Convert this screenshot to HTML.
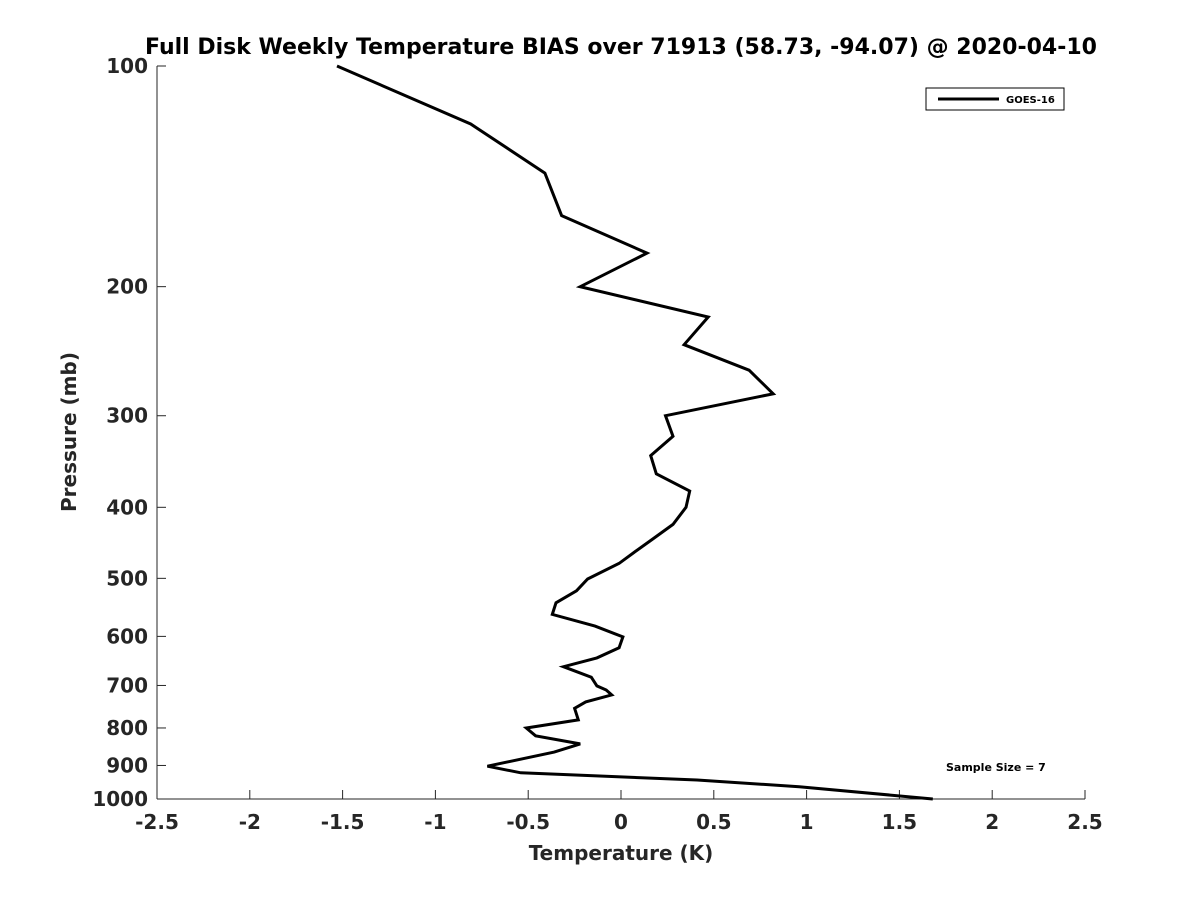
<!DOCTYPE html>
<html><head><meta charset="utf-8"><style>
body{margin:0;background:#fff;}
text{font-family:"DejaVu Sans","Liberation Sans",sans-serif;font-weight:bold;fill:#262626;}
</style></head><body>
<svg id="chart" width="1200" height="900" xmlns="http://www.w3.org/2000/svg">
<rect width="1200" height="900" fill="#fff"/>
<text x="621" y="54" font-size="22" text-anchor="middle" fill="#000" style="fill:#000">Full Disk Weekly Temperature BIAS over 71913 (58.73, -94.07) @ 2020-04-10</text>
<g id="axes"></g>
<g id="series"></g>
<text x="621" y="860" font-size="20" text-anchor="middle">Temperature (K)</text>
<text transform="translate(76,432) rotate(-90)" font-size="20" text-anchor="middle">Pressure (mb)</text>
<g>
<rect x="926" y="88" width="138" height="22" fill="#fff" stroke="#000" stroke-width="1"/>
<line x1="938" y1="99" x2="999" y2="99" stroke="#000" stroke-width="3"/>
<text x="1006" y="103" font-size="10" fill="#000" style="fill:#000">GOES-16</text>
</g>
<text x="946" y="771" font-size="11" fill="#000" style="fill:#000">Sample Size = 7</text>
</svg>
<script>
const temps=[-1.53,-0.81,-0.41,-0.32,0.14,-0.22,0.47,0.34,0.69,0.82,0.24,0.28,0.16,0.19,0.37,0.35,0.28,0.17,0.08,-0.01,-0.18,-0.24,-0.35,-0.37,-0.14,0.01,-0.01,-0.13,-0.31,-0.16,-0.13,-0.08,-0.05,-0.19,-0.25,-0.23,-0.51,-0.46,-0.22,-0.36,-0.72,-0.54,0.41,0.96,1.68];
const pressures=[100,120,140,160,180,200,220,240,260,280,300,320,340,360,380,400,422,442,459,477,501,520,540,560,581,601,622,642,660,682,701,710,721,737,752,780,800,820,841,863,902,921,942,962,1000];
const xTicks=[-2.5,-2,-1.5,-1,-0.5,0,0.5,1,1.5,2,2.5];
const yTicks=[100,200,300,400,500,600,700,800,900,1000];
const NS="http://www.w3.org/2000/svg";
const L=157,R=1085,T=66,B=799;
function xs(v){return L+(v+2.5)/5*(R-L);}
function ys(p){return T+Math.log10(p/100)*(B-T);}
function mk(tag,attrs,parent){const e=document.createElementNS(NS,tag);for(const k in attrs)e.setAttribute(k,attrs[k]);parent.appendChild(e);return e;}
const ax=document.getElementById('axes');
let a=mk('line',{x1:L,y1:B,x2:R,y2:B,stroke:'#262626','stroke-width':1},ax);


a=mk('line',{x1:L,y1:T,x2:L,y2:B,stroke:'#262626','stroke-width':1},ax);


xTicks.forEach(v=>{const x=xs(v);
 const t=mk('line',{x1:x,y1:B,x2:x,y2:B-9,stroke:'#262626','stroke-width':1},ax);
 
 
 const l=mk('text',{x:x,y:B+30,'font-size':20,'text-anchor':'middle'},ax);l.textContent=String(v);
 
 
});
yTicks.forEach(p=>{const y=ys(p);
 const t=mk('line',{x1:L,y1:y,x2:L+9,y2:y,stroke:'#262626','stroke-width':1},ax);
 
 
 const l=mk('text',{x:L-9,y:y+7,'font-size':20,'text-anchor':'end'},ax);l.textContent=String(p);
 
 
});
const sg=document.getElementById('series');
const pts=temps.map((t,i)=>xs(t).toFixed(1)+','+ys(pressures[i]).toFixed(1)).join(' ');
const pl=mk('polyline',{points:pts,fill:'none',stroke:'#000','stroke-width':3,'stroke-linejoin':'miter'},sg);


</script>
</body></html>
